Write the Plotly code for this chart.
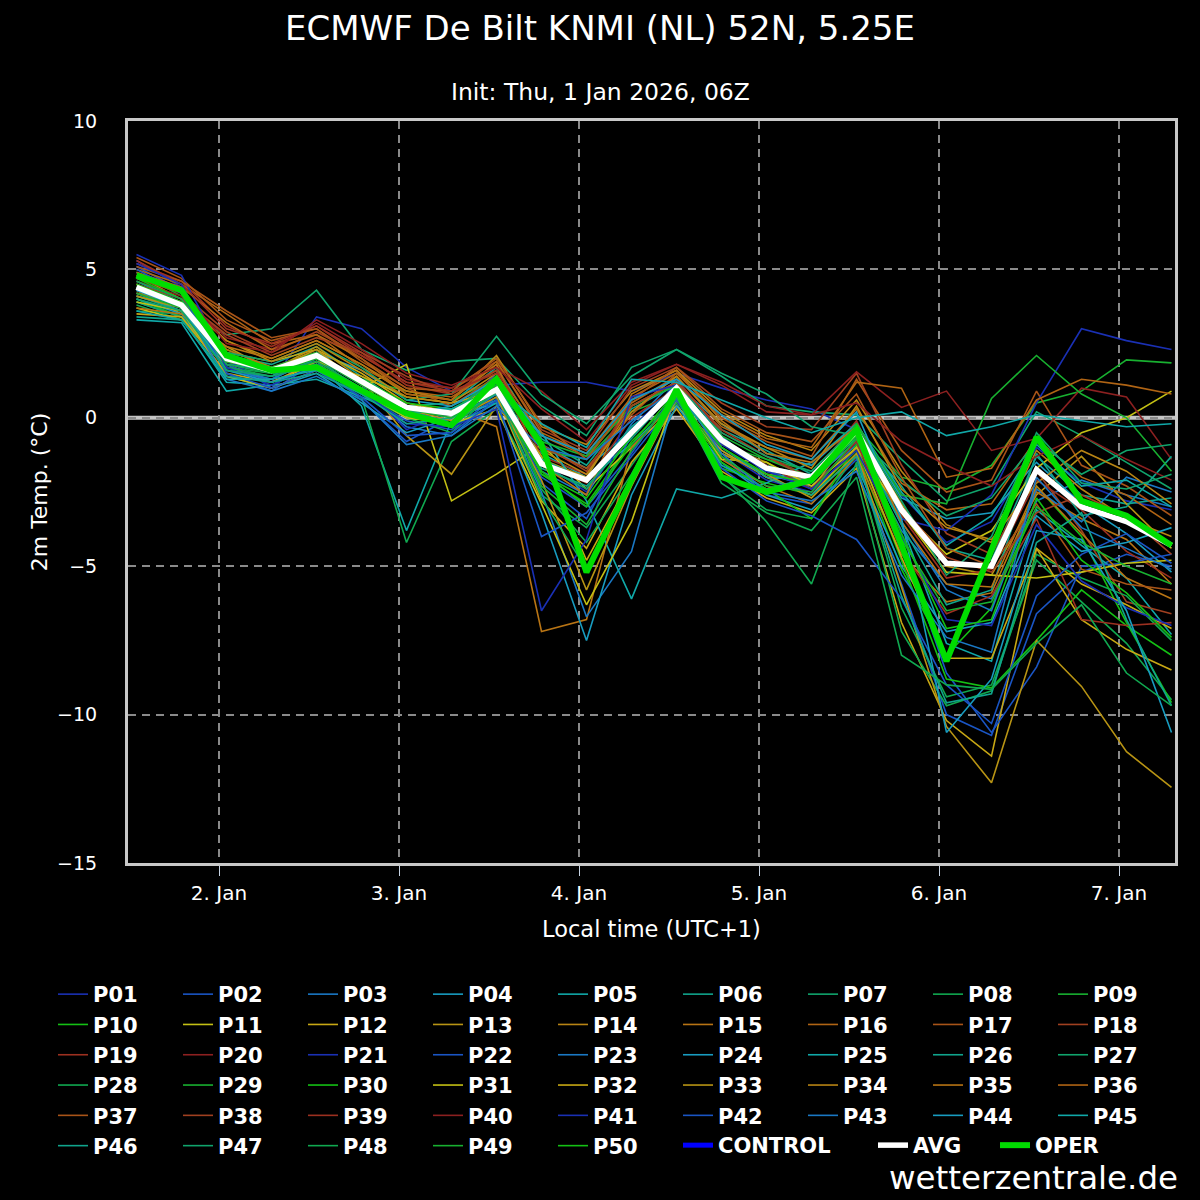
import pandas as pd
import plotly.graph_objects as go

# 6-hourly steps, local time (UTC+1)
times = pd.date_range("2026-01-01 13:00", periods=24, freq="6h")

AVG = [4.4, 3.8, 2.0, 1.6, 2.1, 1.2, 0.35, 0.15, 0.95, -1.55, -2.1, -0.5, 1.0, -0.75, -1.7, -2.0, -0.45, -3.1, -4.9, -5.0, -1.75, -3.0, -3.5, -4.3]
OPER = [4.8, 4.3, 2.1, 1.6, 1.7, 0.95, 0.15, -0.25, 1.3, -0.9, -5.2, -2.1, 0.95, -2.0, -2.5, -2.1, -0.4, -4.3, -8.2, -4.45, -0.65, -2.8, -3.3, -4.3]
CONTROL = [None]

P01 = [5.3, 4.4, 1.9, 1.2, 3.4, 3.0, 1.7, 0.9, 1.1, 1.2, 1.2, 0.9, 1.5, 1.0, 0.6, 0.3, -0.4, -2.6, -4.2, -3.5, -1.0, -2.2, -2.8, -3.1]
P02 = [5.1, 4.3, 1.5, 0.9, 1.9, 0.6, -0.8, 0.0, 1.5, -2.2, -3.4, -0.6, 1.2, -1.3, -2.6, -2.9, -1.4, -5.6, -10.0, -10.7, -6.6, -5.2, -4.6, -5.0]
P03 = [4.6, 3.9, 1.7, 1.3, 2.0, 0.9, -0.3, -0.6, 0.6, -1.8, -2.6, -0.2, 1.3, -0.6, -1.9, -2.3, -0.9, -3.8, -5.6, -6.1, -2.8, -2.1, -2.6, -3.0]
P04 = [4.2, 3.6, 1.6, 1.4, 2.2, 1.6, 0.6, 0.4, 1.1, -0.9, -1.7, -0.4, 1.1, -0.2, -1.2, -1.6, -0.2, -2.7, -3.4, -3.2, -1.5, -2.9, -3.9, -5.2]
P05 = [3.9, 3.4, 1.2, 1.1, 1.8, 0.4, -3.8, -0.1, 0.6, -1.2, -2.0, -0.9, 0.6, -1.6, -2.4, -2.0, -0.7, -3.6, -7.6, -8.2, -3.1, -4.3, -5.4, -7.3]
P06 = [4.1, 3.7, 2.1, 1.8, 2.4, 1.4, 0.4, 0.5, 1.7, -0.7, -1.6, 0.3, 1.1, -0.4, -1.1, -1.9, -0.6, -2.3, -4.4, -4.8, -1.3, -2.6, -2.9, -2.7]
P07 = [3.6, 3.5, 2.8, 3.0, 4.3, 2.3, 1.6, 1.9, 2.0, 0.4, -0.6, 1.7, 2.3, 1.4, 0.4, 0.2, 0.1, -1.4, -2.8, -2.3, 0.2, -0.6, -1.5, -2.4]
P08 = [4.4, 3.9, 1.7, 1.5, 1.6, 0.7, -4.2, -0.8, 0.3, -2.6, -3.7, -1.6, 0.5, -2.0, -3.1, -3.4, -1.2, -6.4, -9.4, -9.0, -4.8, -6.2, -7.6, -9.5]
P09 = [4.9, 4.1, 2.3, 1.7, 2.0, 1.3, 0.9, 0.6, 1.3, -1.1, -1.4, 0.2, 0.8, -0.9, -1.4, -1.8, -0.3, -2.0, -2.4, -1.6, 0.5, 0.9, 1.95, 1.85]
P10 = [4.0, 3.4, 1.9, 1.5, 1.9, 1.0, 0.2, -0.2, 0.9, -1.9, -2.9, -0.8, 0.7, -1.7, -2.2, -2.6, -1.1, -5.1, -8.0, -6.4, -2.3, -4.0, -6.9, -9.6]
P11 = [3.7, 3.3, 1.8, 1.2, 1.8, 1.0, 1.8, -2.8, -1.9, -0.9, -2.4, -1.0, 0.4, -1.2, -1.9, -2.1, -0.8, -3.1, -4.6, -3.8, -1.7, -0.5, 0.0, 0.9]
P12 = [4.5, 3.7, 2.2, 1.9, 2.3, 1.5, 0.5, 0.2, 0.8, -2.8, -4.4, -1.5, 0.3, -1.8, -2.7, -3.2, -1.7, -6.9, -10.2, -11.4, -4.4, -5.6, -6.3, -7.1]
P13 = [4.3, 3.5, 2.4, 1.6, 2.4, 1.3, -0.6, -1.9, 0.4, -1.4, -2.0, 0.4, 1.2, -0.9, -1.5, -2.4, -0.4, -2.9, -5.0, -5.3, -2.6, -1.3, -2.9, -4.4]
P14 = [4.8, 4.0, 2.6, 2.0, 2.6, 1.8, 0.8, 0.6, 2.1, -0.3, -0.9, 0.9, 1.6, 0.2, -0.6, -1.1, 0.6, -1.8, -3.6, -4.2, -1.1, -2.4, -3.4, -4.0]
P15 = [4.2, 3.8, 2.3, 1.7, 2.2, 1.2, 0.1, 0.3, -0.3, -7.2, -6.8, -1.0, 0.6, -1.4, -2.3, -2.9, -1.3, -4.6, -6.2, -5.9, -2.5, -3.4, -4.1, -5.6]
P16 = [5.0, 4.5, 3.5, 2.5, 2.8, 1.7, 0.9, 0.7, 1.6, -0.6, -1.3, 0.5, 1.4, -0.3, -1.0, -1.4, 0.3, -2.2, -3.1, -2.9, -0.7, -2.0, -2.6, -3.6]
P17 = [5.4, 4.7, 3.3, 2.6, 3.0, 1.9, 1.0, 0.4, 1.4, -1.0, -1.7, 0.1, 1.5, 0.0, -0.8, -1.3, 1.3, -1.1, -2.5, -2.1, 0.9, -1.6, -2.3, -3.3]
P18 = [4.7, 4.2, 2.9, 2.2, 2.9, 2.1, 1.2, 1.0, 1.9, -0.4, -1.1, 1.0, 1.7, 0.5, -0.3, -0.4, 1.5, -1.6, -3.9, -4.6, -1.8, -3.8, -6.2, -6.6]
P19 = [5.2, 4.6, 3.1, 2.4, 3.1, 2.2, 1.1, 0.8, 1.8, -1.3, -1.9, 0.6, 1.3, -0.5, -1.3, -2.0, -0.1, -3.3, -5.4, -5.1, -2.1, -3.1, -4.5, -5.4]
P20 = [4.6, 4.1, 2.7, 2.3, 3.2, 2.3, 1.3, 1.0, 1.7, 0.9, -0.4, 1.2, 1.8, 1.2, 0.4, 0.1, 1.55, 0.35, 0.9, -1.1, -0.7, 1.0, 0.7, -1.4]
P21 = [5.5, 4.8, 2.0, 1.0, 2.2, 1.1, -0.4, 0.2, 1.0, -1.5, -2.5, -0.3, 1.0, -1.1, -2.1, -2.5, -1.0, -3.4, -3.8, -2.6, 0.5, 3.0, 2.6, 2.3]
P22 = [4.9, 4.2, 1.8, 1.2, 1.7, 0.8, -0.1, -0.4, 0.7, -2.0, -3.0, -1.2, 0.9, -0.8, -1.8, -2.2, -0.6, -4.2, -8.6, -10.6, -8.4, -5.0, -4.9, -4.6]
P23 = [4.3, 3.8, 1.6, 1.3, 2.0, 1.1, 0.3, -0.2, 0.8, -2.5, -6.7, -4.5, 0.9, -1.0, -2.0, -2.1, -0.8, -3.5, -5.8, -6.5, -2.4, -3.5, -2.0, -2.5]
P24 = [4.0, 3.5, 1.4, 1.0, 1.5, 0.5, -0.5, 0.0, 0.5, -3.2, -7.5, -2.6, 0.4, -1.5, -2.6, -3.1, -1.6, -5.0, -7.2, -6.9, -3.3, -4.5, -4.2, -3.7]
P25 = [3.3, 3.2, 0.9, 1.1, 1.3, 0.7, 0.1, -0.3, 0.5, -0.5, -2.8, -6.1, -2.4, -2.7, -2.2, -1.5, -0.2, -2.5, -4.3, -3.3, -0.9, -2.3, -2.1, -3.0]
P26 = [4.1, 3.6, 1.8, 1.6, 2.1, 1.2, 0.2, 0.1, 1.2, -1.7, -2.3, -0.7, 1.0, -0.7, -1.6, -2.0, -0.5, -3.6, -6.3, -5.8, -1.2, -3.3, -3.0, -1.3]
P27 = [3.9, 3.4, 2.2, 1.9, 2.5, 1.7, 0.6, 0.8, 2.75, 0.8, -0.2, 1.4, 2.3, 1.5, 0.8, -0.3, -0.6, -2.1, -3.3, -2.7, -0.8, -1.9, -1.1, -0.9]
P28 = [3.8, 3.3, 1.7, 1.4, 1.8, 0.8, 0.0, -0.5, 1.0, -2.4, -4.2, -1.9, 0.8, -1.9, -3.5, -5.6, -1.5, -7.2, -9.7, -9.2, -4.6, -5.4, -6.0, -7.5]
P29 = [4.5, 3.9, 2.0, 1.7, 2.2, 1.2, 0.4, 0.2, 1.4, -0.8, -1.3, 0.4, 1.1, -0.6, -1.4, -2.0, -0.2, -2.6, -2.9, 0.65, 2.1, 0.8, 0.0, -1.8]
P30 = [4.7, 4.0, 2.1, 1.5, 2.0, 1.3, 0.5, 0.3, 1.1, -1.8, -3.0, -0.9, 0.9, -1.5, -2.4, -3.4, -0.9, -4.8, -8.8, -9.1, -7.5, -5.8, -7.0, -8.0]
P31 = [3.9, 3.6, 1.4, 1.0, 1.6, 0.9, 0.0, -0.2, 0.3, -2.9, -6.3, -3.5, 0.9, -1.4, -1.5, -2.3, -1.0, -3.2, -5.2, -5.3, -5.4, -5.2, -4.9, -4.8]
P32 = [3.5, 3.4, 1.5, 1.2, 1.9, 1.4, 0.7, 0.5, 0.9, -1.3, -4.8, -2.0, 0.6, -1.1, -2.0, -2.6, -1.0, -4.7, -8.1, -8.1, -4.4, -6.8, -7.8, -8.5]
P33 = [4.1, 3.7, 1.9, 1.6, 2.3, 1.1, 0.3, -0.1, 0.7, -2.1, -5.8, -2.3, 0.7, -1.2, -1.9, -2.7, -1.2, -5.7, -10.4, -12.3, -7.5, -9.05, -11.25, -12.45]
P34 = [4.4, 3.9, 2.6, 1.9, 2.5, 1.6, 0.7, 0.5, 1.5, -1.1, -1.9, 0.2, 1.4, -0.2, -1.0, -1.7, 0.4, -2.4, -3.7, -4.1, -2.2, -1.1, -1.8, -2.9]
P35 = [3.7, 3.5, 2.4, 2.0, 2.6, 1.8, 0.9, 0.6, 1.8, -1.6, -2.6, 0.8, 1.6, -0.1, -1.2, -1.5, -0.3, -3.5, -5.6, -5.7, -2.3, -3.9, -5.4, -6.1]
P36 = [4.9, 4.4, 3.2, 2.3, 2.8, 2.0, 0.8, 0.6, 1.9, -0.5, -1.2, 0.7, 1.5, 0.1, -0.7, -1.0, 1.2, 1.0, -2.0, -1.7, 0.6, 1.3, 1.1, 0.8]
P37 = [5.1, 4.6, 3.6, 2.7, 3.0, 2.0, 1.0, 0.9, 2.0, -0.2, -1.4, 0.6, 1.7, 0.3, -0.5, -0.8, 0.8, -2.0, -4.4, -5.0, -2.9, -5.1, -5.6, -5.8]
P38 = [4.5, 4.0, 2.8, 2.1, 2.7, 2.2, 1.4, 0.8, 1.6, -0.9, -1.8, 0.4, 1.2, -0.4, -1.3, -2.1, -0.5, -3.0, -4.7, -5.2, -3.2, -2.6, -3.3, -4.6]
P39 = [5.3, 4.5, 3.0, 2.5, 3.1, 2.1, 1.2, 0.9, 1.5, -1.5, -2.2, 0.0, 1.0, -0.7, -1.6, -2.4, -0.8, -4.5, -6.6, -6.0, -3.4, -6.8, -7.0, -6.9]
P40 = [4.8, 4.3, 2.5, 2.2, 3.3, 2.5, 1.5, 1.1, 1.7, 0.3, -0.8, 1.1, 1.8, 1.1, 0.2, 0.1, 0.5, -0.8, -1.6, -2.3, -1.3, -0.6, -1.4, -2.1]
P41 = [5.2, 4.5, 1.7, 1.1, 1.8, 0.9, -0.2, -0.3, 0.3, -6.5, -4.1, 0.7, 1.1, -0.9, -1.8, -2.4, -1.1, -4.0, -6.8, -7.0, -3.6, -5.5, -6.4, -7.0]
P42 = [5.0, 4.2, 1.5, 1.0, 1.6, 0.7, -0.6, -0.5, 0.6, -4.0, -3.2, -1.3, 0.6, -1.7, -2.8, -3.3, -4.1, -6.1, -9.0, -10.3, -6.0, -4.6, -3.9, -4.9]
P43 = [4.4, 3.8, 1.3, 0.9, 1.4, 0.6, -0.9, -0.6, 0.4, -1.0, -1.4, -0.1, 1.0, -1.2, -2.5, -2.8, -1.8, -5.3, -7.4, -7.9, -2.0, -3.7, -4.4, -5.1]
P44 = [4.3, 3.7, 1.6, 1.2, 1.7, 1.0, 0.1, 0.4, 1.3, -0.6, -1.2, 0.6, 1.3, 0.1, -0.9, -1.4, 0.2, -3.4, -10.6, -8.8, -3.8, -4.1, -6.5, -10.6]
P45 = [3.6, 3.3, 1.3, 1.3, 1.6, 0.9, 0.2, 0.3, 1.0, -0.2, -1.0, 1.3, 1.2, 0.6, 0.0, -0.5, 0.0, 0.2, -0.6, -0.3, 0.1, -0.1, -0.3, -0.2]
P46 = [3.4, 3.3, 1.4, 1.2, 1.5, 0.8, -0.2, 0.0, 0.8, -1.4, -2.1, -0.3, 0.8, -1.0, -2.0, -2.6, -1.3, -6.0, -9.6, -9.3, -4.2, -3.2, -6.8, -9.7]
P47 = [4.0, 3.6, 1.6, 1.4, 1.8, 1.0, 0.2, 0.2, 1.3, -1.6, -2.4, -0.4, 0.9, -0.5, -1.3, -1.8, -0.3, -2.8, -5.3, -4.0, -0.5, -2.2, -2.4, -1.9]
P48 = [4.6, 4.0, 1.8, 1.5, 1.9, 1.0, 0.1, -0.3, 0.9, -2.7, -5.1, -2.2, 0.7, -2.2, -3.2, -3.8, -2.0, -8.0, -9.0, -9.15, -7.6, -6.3, -8.6, -9.7]
P49 = [4.2, 3.7, 1.9, 1.6, 2.0, 1.1, 0.3, 0.0, 1.1, -2.3, -3.6, -1.1, 0.8, -1.3, -2.3, -2.5, -0.7, -4.1, -6.5, -6.2, -3.0, -4.2, -5.0, -5.6]
P50 = [4.5, 3.9, 2.0, 1.6, 2.1, 1.2, 0.3, 0.1, 1.2, -1.9, -2.7, -0.6, 1.0, -1.0, -1.9, -2.2, -0.6, -3.9, -7.1, -6.8, -2.7, -4.8, -5.9, -7.4]

members = [P01, P02, P03, P04, P05, P06, P07, P08, P09, P10,
           P11, P12, P13, P14, P15, P16, P17, P18, P19, P20,
           P21, P22, P23, P24, P25, P26, P27, P28, P29, P30,
           P31, P32, P33, P34, P35, P36, P37, P38, P39, P40,
           P41, P42, P43, P44, P45, P46, P47, P48, P49, P50]

# colour cycle of the member lines (repeats every 20)
palette = ["#1a30b4", "#1a55c4", "#1a78c4", "#189cc0", "#10a8a8",
           "#10a48c", "#10a46c", "#10a850", "#18b030", "#14c014",
           "#c4c014", "#c8a814", "#b89414", "#b88414", "#b87414",
           "#b06414", "#a85418", "#a04020", "#9c3020", "#8c2020"]

font = "DejaVu Sans"
legend_font = dict(size=21, color="white", weight="bold")

fig = go.Figure()
for i, vals in enumerate(members):
    fig.add_trace(go.Scatter(x=times, y=vals, mode="lines", name=f"P{i+1:02d}",
                             line=dict(color=palette[i % 20], width=1.6)))

# control run has no data in this run, only its legend entry
fig.add_trace(go.Scatter(x=times[:1], y=CONTROL, mode="lines", name="CONTROL",
                         legend="legend2", line=dict(color="#0000ff", width=5)))
fig.add_trace(go.Scatter(x=times, y=AVG, mode="lines", name="AVG",
                         legend="legend3", line=dict(color="white", width=5.5)))
fig.add_trace(go.Scatter(x=times, y=OPER, mode="lines", name="OPER",
                         legend="legend4", line=dict(color="#00dd00", width=6)))

# pixel -> paper helpers for the legend blocks below the plot
def px_x(p):
    return (p - 128) / 1047

def px_y(p):
    return (863 - p) / 742

last_row = 974 + 5 * 30.2

fig.update_layout(
    width=1200, height=1200,
    paper_bgcolor="black", plot_bgcolor="black",
    margin=dict(l=128, r=25, t=121, b=337),
    font=dict(family=font, color="white", size=20),
    title=dict(text="ECMWF De Bilt KNMI (NL) 52N, 5.25E", x=0.5, xanchor="center",
               y=1 - 28 / 1200, yanchor="middle", font=dict(size=34, color="white")),
    showlegend=True,
    legend=dict(orientation="h", x=px_x(53), xanchor="left", y=px_y(974), yanchor="top",
                entrywidth=80, entrywidthmode="pixels", traceorder="normal",
                font=legend_font, bgcolor="rgba(0,0,0,0)"),
    legend2=dict(orientation="h", x=px_x(678), xanchor="left", y=px_y(last_row), yanchor="top",
                 font=legend_font, bgcolor="rgba(0,0,0,0)"),
    legend3=dict(orientation="h", x=px_x(873), xanchor="left", y=px_y(last_row), yanchor="top",
                 font=legend_font, bgcolor="rgba(0,0,0,0)"),
    legend4=dict(orientation="h", x=px_x(995), xanchor="left", y=px_y(last_row), yanchor="top",
                 font=legend_font, bgcolor="rgba(0,0,0,0)"),
)

# light zero line under the dashed grid
fig.add_hline(y=0, line=dict(color="#c4c4c4", width=4), layer="below")

fig.add_annotation(text="Init: Thu, 1 Jan 2026, 06Z", xref="paper", yref="paper",
                   x=px_x(600), y=px_y(92), xanchor="center", yanchor="middle",
                   showarrow=False, font=dict(size=23.5, color="white"))
fig.add_annotation(text="wetterzentrale.de", xref="paper", yref="paper",
                   x=px_x(1180), y=px_y(1178), xanchor="right", yanchor="middle",
                   showarrow=False, font=dict(size=32.5, color="white"))

fig.update_xaxes(range=["2026-01-01 11:52", "2026-01-07 07:28"],
                 tick0="2026-01-02", dtick=86400000, tickformat="%-d. %b",
                 ticks="outside", ticklen=10, tickcolor="#c8d4e4", tickwidth=1,
                 showgrid=True, gridcolor="#8a8a8a", gridwidth=1.5, griddash="8px,6px",
                 showline=True, linecolor="#c8c8c8", linewidth=3, mirror=True,
                 tickfont=dict(size=20), zeroline=False,
                 title=dict(text="Local time (UTC+1)", font=dict(size=22.5), standoff=18))
fig.update_yaxes(range=[-15, 10], dtick=5,
                 ticks="outside", ticklen=24, tickcolor="black",
                 showgrid=True, gridcolor="#8a8a8a", gridwidth=1.5, griddash="8px,6px",
                 showline=True, linecolor="#c8c8c8", linewidth=3, mirror=True,
                 zeroline=False,
                 tickfont=dict(size=19),
                 title=dict(text="2m Temp. (°C)", font=dict(size=22), standoff=4))

fig.write_html("out.html", config={"displayModeBar": False},
               post_script="document.body.style.margin='0';")
